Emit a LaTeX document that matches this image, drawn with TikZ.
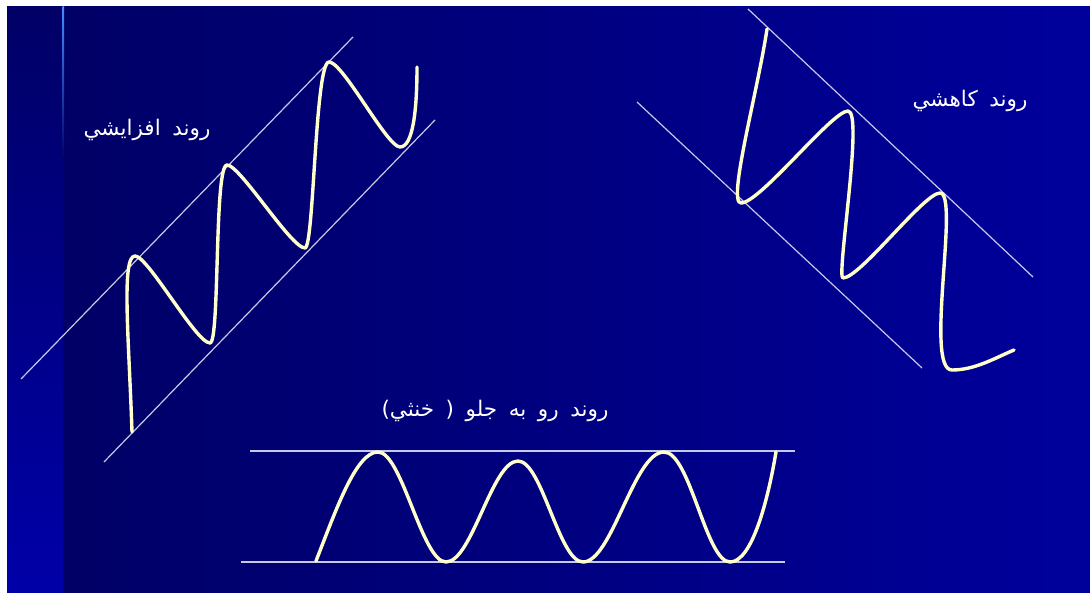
\documentclass[tikz,border=0pt]{standalone}
\usepackage{fontspec}
\usepackage{tikz}
\usetikzlibrary{positioning}
\TeXXeTstate=1
\newfontfamily\arabicfont[Script=Arabic,WordSpace=1.7]{DejaVu Sans}
\definecolor{navydark}{RGB}{0,0,102}
\definecolor{navylight}{RGB}{0,0,156}
\definecolor{stripbot}{RGB}{0,0,168}
\definecolor{edgeblue}{RGB}{70,140,255}
\definecolor{chancol}{RGB}{200,200,232}
\definecolor{wavecol}{RGB}{255,255,204}

\begin{document}
\begin{tikzpicture}[x=1pt,y=-1pt,
  chan/.style={chancol, line width=1.2pt},
  wave/.style={wavecol, line width=3.4pt, line cap=round, line join=round},
  lbl/.style={white, font=\arabicfont\fontsize{21.5}{24}\selectfont, inner sep=0pt}]
% page and background
\useasboundingbox (0,0) rectangle (1090,593);
\fill[white] (0,0) rectangle (1090,593);
\shade[top color=navydark, bottom color=stripbot] (7,7) rectangle (63,593);
\shade[left color=navydark, right color=navylight] (63,7) rectangle (1090,593);
\shade[top color=edgeblue, bottom color=navydark] (62.5,7) rectangle (64,160);
\fill[navydark!70!stripbot] (62.5,160) rectangle (64,593);
% rising trend
\draw[chan] (21,379) -- (353,37);
\draw[chan] (104,462) -- (435,120);
\draw[wave] (132,432) .. controls (129,340) and (121,256) .. (135,256)
  .. controls (148,256) and (196,343) .. (210,343)
  .. controls (220,343) and (214,165) .. (227,165)
  .. controls (240,165) and (291,248) .. (305,248)
  .. controls (314,248) and (315,62) .. (329,62)
  .. controls (343,62) and (387,147) .. (400,147)
  .. controls (413,147) and (417,110) .. (417,67);
\node[lbl] (rise) at (147,130) {\beginR روند افزايشي\endR};
% falling trend
\draw[chan] (748,9) -- (1033,277);
\draw[chan] (637,102) -- (922,368);
\draw[wave] (767,29) .. controls (758,90) and (727,203) .. (741,203)
  .. controls (760,203) and (832,111) .. (848,111)
  .. controls (864,111) and (836,278) .. (843,278)
  .. controls (860,278) and (924,193) .. (940,193)
  .. controls (960,193) and (924,370) .. (952,370)
  .. controls (975,370) and (995,358) .. (1014,350);
\node[lbl] (fall) at (970,101) {\beginR روند كاهشي\endR};
% sideways trend
\draw[chan] (250,451) -- (795,451);
\draw[chan] (241,562) -- (785,562);
\draw[wave] (316,561) .. controls (336,510) and (356,452) .. (378,452)
  .. controls (402,452) and (422,562) .. (446,562)
  .. controls (472,562) and (492,461) .. (518,461)
  .. controls (542,461) and (559,562) .. (583,562)
  .. controls (612,562) and (634,452) .. (664,452)
  .. controls (690,452) and (706,562) .. (730,562)
  .. controls (752,562) and (768,500) .. (776,452);
\node[lbl] (side) at (495,411) {\beginR روند رو به جلو ( خنثي)\endR};
\end{tikzpicture}
\end{document}
